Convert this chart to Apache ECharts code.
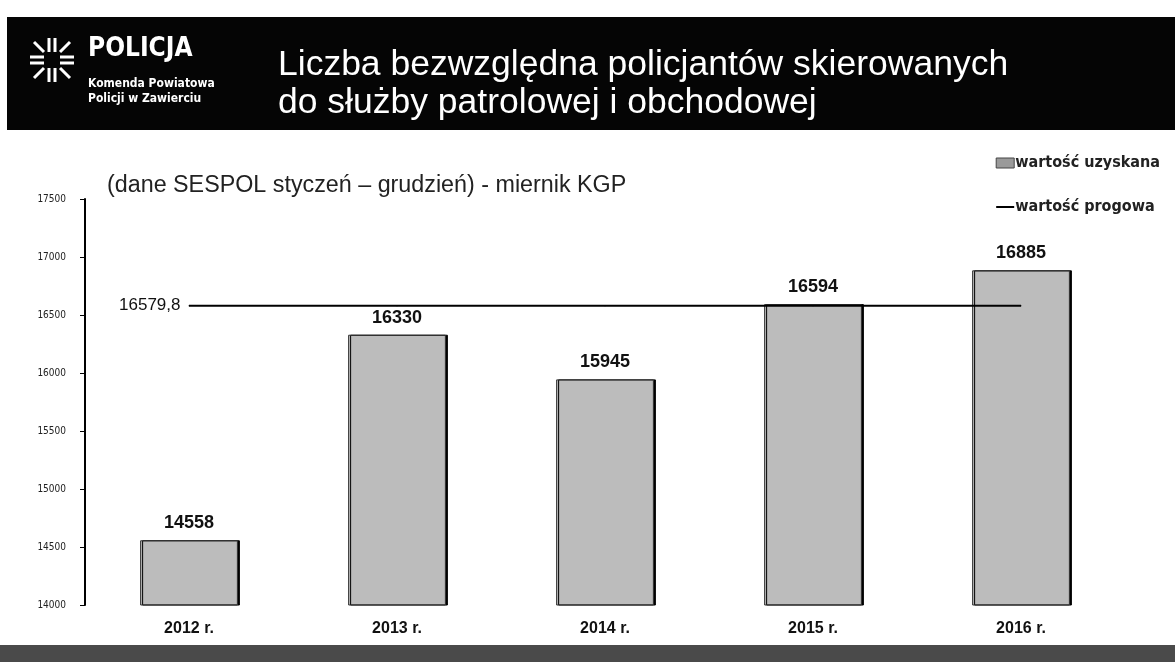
<!DOCTYPE html>
<html>
<head>
<meta charset="utf-8">
<script src="https://cdn.jsdelivr.net/npm/echarts@6/dist/echarts.min.js"></script>
<style>
html,body{margin:0;padding:0;background:#fff;}
#chart{width:1175px;height:662px;}
</style>
</head>
<body>
<div id="chart"></div>
<script>
const categories = ['2012 r.', '2013 r.', '2014 r.', '2015 r.', '2016 r.'];
const obtainedValues = [14558, 16330, 15945, 16594, 16885];
const thresholdValue = 16579.8;
const thresholdLabel = '16579,8';
const seriesNames = ['wartość uzyskana', 'wartość progowa'];
const yTicks = { min: 14000, max: 17500, interval: 500 };

const font = 'Liberation Sans, Arial, sans-serif';
const narrow = '"Liberation Sans Narrow", "DejaVu Sans Condensed", Arial, sans-serif';

const thresholdData = categories.map((c, i) => i === 0
  ? { value: thresholdValue, label: { show: true, position: 'left', formatter: thresholdLabel, distance: 8, fontSize: 17, color: '#111', fontFamily: font } }
  : thresholdValue);

const chart = echarts.init(document.getElementById('chart'), null, { renderer: 'canvas' });

const lx = 52, ly = 60;
const logo = [];
const rays = [
  [-22,-3,-8,-3],[-22,3,-8,3],[8,-3,22,-3],[8,3,22,3],
  [-3,-22,-3,-8],[3,-22,3,-8],[-3,8,-3,22],[3,8,3,22],
  [-18,-18,-8,-8],[18,-18,8,-8],[-18,18,-8,8],[18,18,8,8]
];
rays.forEach(r => logo.push({ type: 'line', shape: { x1: lx + r[0], y1: ly + r[1], x2: lx + r[2], y2: ly + r[3] }, style: { stroke: '#fff', lineWidth: 3 } }));

const option = {
  backgroundColor: '#ffffff',
  animation: false,
  graphic: [
    { type: 'rect', shape: { x: 7, y: 17, width: 1168, height: 113 }, style: { fill: '#050505' }, z: 0 },
    ...logo,
    { type: 'text', left: 88, top: 36, style: { text: 'POLICJA', fill: '#fff', font: 'bold 26px ' + narrow } },
    { type: 'text', left: 88, top: 78, style: { text: 'Komenda Powiatowa', fill: '#fff', font: 'bold 12px ' + narrow } },
    { type: 'text', left: 88, top: 93, style: { text: 'Policji w Zawierciu', fill: '#fff', font: 'bold 12px ' + narrow } },
    { type: 'text', left: 278, top: 47, style: { text: 'Liczba bezwzględna policjantów skierowanych', fill: '#fff', font: '35.5px ' + font } },
    { type: 'text', left: 278, top: 85, style: { text: 'do służby patrolowej i obchodowej', fill: '#fff', font: '35.5px ' + font } },
    { type: 'text', left: 107, top: 174, style: { text: '(dane SESPOL styczeń – grudzień) - miernik KGP', fill: '#222', font: '23.3px ' + font } },
    { type: 'rect', shape: { x: 0, y: 645, width: 1175, height: 17 }, style: { fill: '#4a4a4a' }, z: 0 }
  ],
  legend: {
    data: [
      { name: seriesNames[0], icon: 'rect', itemStyle: { color: '#9a9a9a', borderColor: '#444', borderWidth: 1 } },
      { name: seriesNames[1], icon: 'path://M0,4 L20,4 L20,6 L0,6 Z M0,0 L0.01,0 L0.01,0.01 Z M0,10 L0.01,10 L0.01,10.01 Z', itemStyle: { color: '#000' } }
    ],
    orient: 'vertical',
    right: 10,
    top: 150,
    itemWidth: 18,
    itemHeight: 10,
    itemGap: 28,
    textStyle: { fontSize: 16, fontWeight: 'bold', color: '#222', fontFamily: narrow, padding: [0, 0, 0, -4] }
  },
  grid: { left: 85, right: 50, top: 199, bottom: 57, containLabel: false },
  xAxis: {
    type: 'category',
    data: categories,
    axisLine: { show: false },
    axisTick: { show: false },
    axisLabel: { fontSize: 16, fontWeight: 'bold', color: '#111', margin: 16, fontFamily: font }
  },
  yAxis: {
    type: 'value',
    min: yTicks.min,
    max: yTicks.max,
    interval: yTicks.interval,
    axisLine: { show: true, lineStyle: { color: '#000', width: 2 } },
    axisTick: { show: true, length: 5, lineStyle: { color: '#000', width: 1 } },
    splitLine: { show: false },
    axisLabel: { fontSize: 10, color: '#222', margin: 19, fontFamily: '"DejaVu Sans Condensed", ' + font, formatter: v => String(v) }
  },
  series: [
    {
      name: seriesNames[0],
      type: 'bar',
      data: obtainedValues,
      barWidth: '47%',
      itemStyle: { color: '#bcbcbc', borderColor: '#333', borderWidth: 1, shadowColor: '#000', shadowOffsetX: 2, shadowBlur: 0 },
      label: { show: true, position: 'top', distance: 8, fontSize: 18, fontWeight: 'bold', color: '#111', fontFamily: font },
      z: 2
    },
    {
      name: seriesNames[1],
      type: 'line',
      data: thresholdData,
      symbol: 'circle',
      symbolSize: 1,
      showSymbol: true,
      itemStyle: { color: '#000' },
      lineStyle: { color: '#000', width: 2 },
      z: 3
    }
  ]
};
chart.setOption(option);
</script>
</body>
</html>
